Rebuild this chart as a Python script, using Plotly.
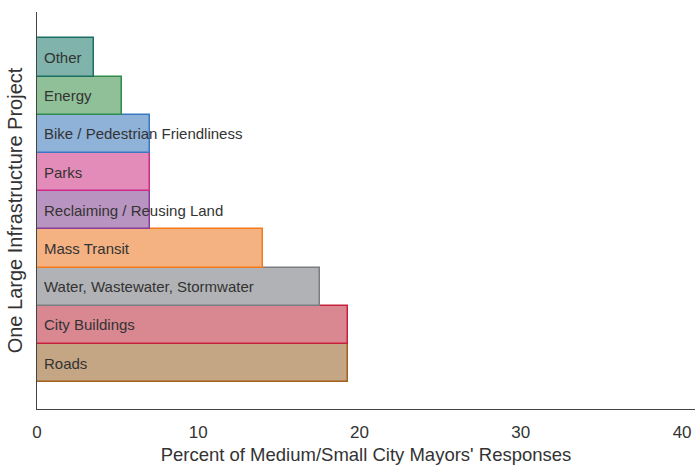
import plotly.graph_objects as go

categories = ["Roads", "City Buildings", "Water, Wastewater, Stormwater", "Mass Transit",
              "Reclaiming / Reusing Land", "Parks", "Bike / Pedestrian Friendliness",
              "Energy", "Other"]
values = [19.3, 19.3, 17.54, 14.04, 7.02, 7.02, 7.02, 5.26, 3.51]
fill_colors = ["#c4a684", "#d98891", "#b1b2b5", "#f4b283", "#b894c0", "#e38bb9",
               "#8fb2d8", "#8fc098", "#7fb3ac"]
line_colors = ["#a0601e", "#c8213b", "#7c7d80", "#f57a1a", "#8a3c9a", "#d02a89",
               "#3a78c4", "#2e8b4b", "#1a6e64"]
x_ticks = [0, 10, 20, 30, 40]

positions = list(range(len(categories)))
FONT = "Liberation Sans, Arial, sans-serif"

fig = go.Figure()
fig.add_trace(go.Bar(
    x=values, y=positions, orientation="h", width=1,
    marker=dict(color=fill_colors, line=dict(color=line_colors, width=1.5)),
    hoverinfo="skip", showlegend=False,
))
for cat, pos in zip(categories, positions):
    fig.add_annotation(
        x=0, y=pos, xref="x", yref="y", text=cat, showarrow=False,
        xanchor="left", yanchor="middle", xshift=5,
        font=dict(family=FONT, size=15, color="#333333"),
    )

fig.update_layout(
    width=695, height=465,
    margin=dict(l=36.5, r=0, t=12, b=56, autoexpand=False),
    paper_bgcolor="white", plot_bgcolor="white",
    font=dict(family=FONT, color="#333333"),
    bargap=0,
)
fig.update_xaxes(
    range=[0, 40.8], tickvals=x_ticks, ticks="", showgrid=False, zeroline=False,
    showline=True, linecolor="#444444", linewidth=1.2, automargin=False,
    tickfont=dict(size=17, color="#333333"), ticklabelstandoff=7,
    title=dict(text="Percent of Medium/Small City Mayors' Responses",
               font=dict(size=18.5, color="#333333"), standoff=7),
)
fig.update_yaxes(
    range=[-1.2, 9.19], showticklabels=False, ticks="", showgrid=False, zeroline=False,
    showline=True, linecolor="#444444", linewidth=1.2, automargin=False,
    title=dict(text="One Large Infrastructure Project",
               font=dict(size=20, color="#333333"), standoff=7),
)

fig.write_html("out.html", config={"displayModeBar": False})

# remove the browser's default page margin so the figure sits at the window origin
with open("out.html", "r", encoding="utf-8") as f:
    html = f.read()
html = html.replace("<body>", "<body style=\"margin:0;overflow:hidden\">", 1)
with open("out.html", "w", encoding="utf-8") as f:
    f.write(html)
